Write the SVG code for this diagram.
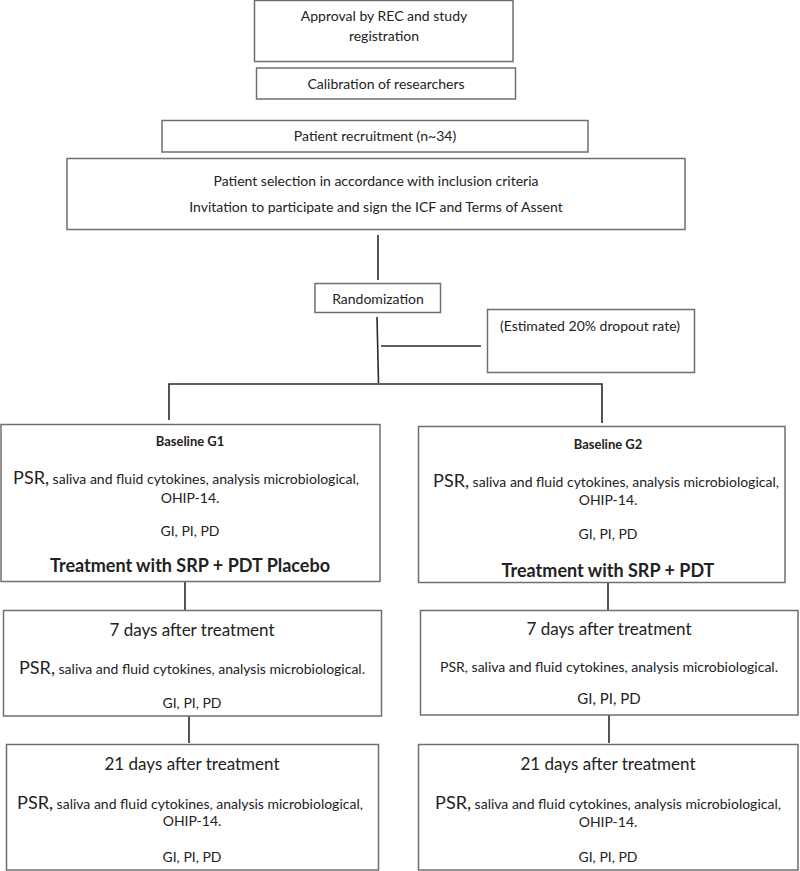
<svg xmlns="http://www.w3.org/2000/svg" width="800" height="871" viewBox="0 0 800 871">
<style>
.box{fill:#fff;stroke:#6f6f6f;stroke-width:1.5}
.ln{stroke:#2a2a2a;stroke-width:1.6;fill:none}
text{font-family:Lato,"Open Sans",sans-serif;fill:#222;text-anchor:middle}
.s{font-size:14px}
.m{font-size:14px}
.g{font-size:15px}
.big{font-size:17px}
.psr{font-size:18px}
.b{font-weight:bold;font-size:13px}
.tb{font-weight:bold;font-size:18px}
</style>
<rect width="800" height="871" fill="#fff"/>
<g id="connectors">
<line class="ln" x1="378" y1="235" x2="378" y2="280"/>
<line class="ln" x1="377" y1="317" x2="378.5" y2="383"/>
<line class="ln" x1="381" y1="346" x2="481" y2="346"/>
<polyline class="ln" points="169,420 169,384 602,384 602,423"/>
<line class="ln" x1="185" y1="582" x2="185" y2="610"/>
<line class="ln" x1="608" y1="583" x2="608" y2="610"/>
<line class="ln" x1="189" y1="716" x2="189" y2="743"/>
<line class="ln" x1="609" y1="715" x2="609" y2="743"/>
</g>
<g id="approval">
<rect class="box" x="254.5" y="0.5" width="258.5" height="61"/>
<text class="m" x="384" y="21">Approval by REC and study</text>
<text class="m" x="384" y="40.5">registration</text>
</g>
<g id="calibration">
<rect class="box" x="256.5" y="68" width="259" height="31"/>
<text class="m" x="386" y="88.5">Calibration of researchers</text>
</g>
<g id="recruitment">
<rect class="box" x="162" y="120.5" width="426" height="31.5"/>
<text class="s" x="375" y="140.5">Patient recruitment (n~34)</text>
</g>
<g id="selection">
<rect class="box" x="67" y="158.5" width="618" height="71"/>
<text class="s" x="376" y="186">Patient selection in accordance with inclusion criteria</text>
<text class="s" x="376" y="212">Invitation to participate and sign the ICF and Terms of Assent</text>
</g>
<g id="randomization">
<rect class="box" x="315" y="283.5" width="125.5" height="29"/>
<text class="s" x="378" y="304">Randomization</text>
</g>
<g id="dropout">
<rect class="box" x="487.5" y="309.5" width="207" height="63"/>
<text class="s" x="590" y="331">(Estimated 20% dropout rate)</text>
</g>
<g id="baseline-g1">
<rect class="box" x="1" y="424.5" width="379" height="157"/>
<text class="b" x="190" y="446">Baseline G1</text>
<text class="s" x="186" y="483.5"><tspan class="psr">PSR,</tspan> saliva and fluid cytokines, analysis microbiological,</text>
<text class="s" x="190" y="503">OHIP-14.</text>
<text class="s" x="190" y="536">GI, PI, PD</text>
<text class="tb" x="190" y="571.5">Treatment with SRP + PDT Placebo</text>
</g>
<g id="baseline-g2">
<rect class="box" x="418.5" y="426.5" width="366.5" height="156"/>
<text class="b" x="608" y="448.5">Baseline G2</text>
<text class="s" x="606" y="486.5"><tspan class="psr">PSR,</tspan> saliva and fluid cytokines, analysis microbiological,</text>
<text class="s" x="608" y="505">OHIP-14.</text>
<text class="s" x="608" y="539">GI, PI, PD</text>
<text class="tb" x="608" y="576.5">Treatment with SRP + PDT</text>
</g>
<g id="day7-g1">
<rect class="box" x="3.5" y="610.5" width="378" height="105.5"/>
<text class="big" x="192" y="635.5">7 days after treatment</text>
<text class="s" x="192" y="673.5"><tspan class="psr">PSR,</tspan> saliva and fluid cytokines, analysis microbiological.</text>
<text class="s" x="192" y="707.5">GI, PI, PD</text>
</g>
<g id="day7-g2">
<rect class="box" x="420.5" y="610.5" width="377.5" height="104.5"/>
<text class="big" x="609" y="635">7 days after treatment</text>
<text class="s" x="609" y="672">PSR, saliva and fluid cytokines, analysis microbiological.</text>
<text class="g" x="609" y="703.5">GI, PI, PD</text>
</g>
<g id="day21-g1">
<rect class="box" x="6.5" y="744.5" width="372" height="125.5"/>
<text class="big" x="192" y="769.5">21 days after treatment</text>
<text class="s" x="190" y="808.5"><tspan class="psr">PSR,</tspan> saliva and fluid cytokines, analysis microbiological,</text>
<text class="s" x="192" y="826">OHIP-14.</text>
<text class="s" x="192" y="861.5">GI, PI, PD</text>
</g>
<g id="day21-g2">
<rect class="box" x="418.5" y="744.5" width="379.5" height="125.5"/>
<text class="big" x="608" y="769.5">21 days after treatment</text>
<text class="s" x="608" y="808.5"><tspan class="psr">PSR,</tspan> saliva and fluid cytokines, analysis microbiological,</text>
<text class="s" x="608" y="827">OHIP-14.</text>
<text class="s" x="608" y="861.5">GI, PI, PD</text>
</g>
</svg>
